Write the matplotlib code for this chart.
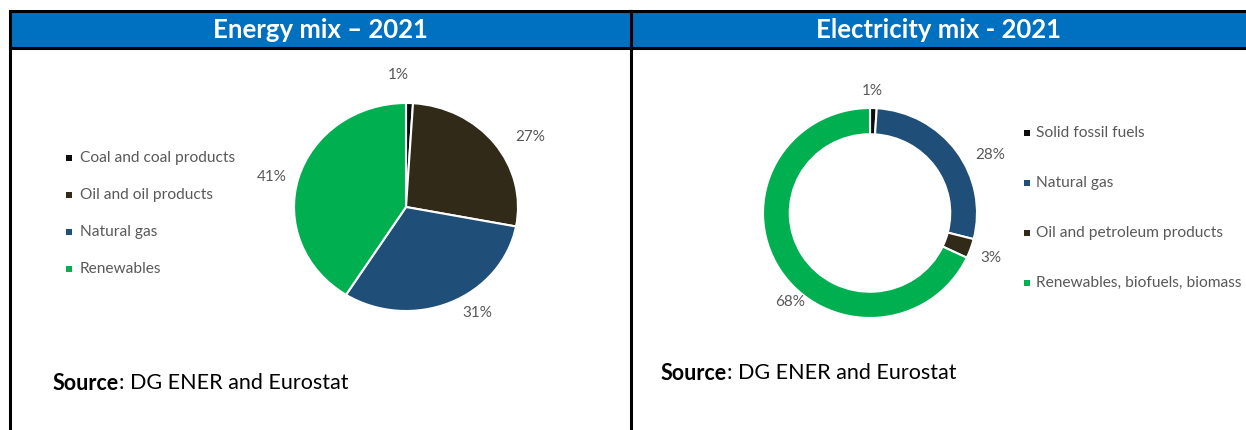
import matplotlib
matplotlib.use("Agg")
import matplotlib.pyplot as plt
from matplotlib.patches import Rectangle

plt.rcParams['font.family'] = ['Lato', 'DejaVu Sans']

# ---- data ----
energy_labels = ['Coal and coal products', 'Oil and oil products', 'Natural gas', 'Renewables']
energy_values = [1, 27, 31, 41]
energy_colors = ['#0d0d0d', '#322a18', '#1f4e79', '#00b050']

elec_labels = ['Solid fossil fuels', 'Natural gas', 'Oil and petroleum products',
               'Renewables, biofuels, biomass']
elec_values = [1, 28, 3, 68]
elec_colors = ['#0d0d0d', '#1f4e79', '#322a18', '#00b050']

titles = ['Energy mix \u2013 2021', 'Electricity mix - 2021']

# label placement (in pie-radius units), like Excel's "best fit"
energy_lab_pos = [(-0.07, 1.27), (1.11, 0.67), (0.64, -1.02), (-1.2, 0.29)]
elec_lab_pos = [(0.02, 1.16), (1.12, 0.55), (1.13, -0.43), (-0.75, -0.85)]

W, H = 1246, 430
HEADER = '#0070c0'
GREY = '#595959'

fig = plt.figure(figsize=(W / 100, H / 100), dpi=100)
bg = fig.add_axes([0, 0, 1, 1])
bg.set_xlim(0, W); bg.set_ylim(H, 0); bg.axis('off')

# table frame + header
bg.add_patch(Rectangle((10, 11), W - 10, 37, facecolor=HEADER, edgecolor='none'))
bg.plot([10, W], [11, 11], color='black', lw=2.2)
bg.plot([10, W], [48, 48], color='black', lw=2.2)
bg.plot([10, 10], [11, H], color='black', lw=2.2)
bg.plot([631, 631], [11, H], color='black', lw=2.2)
bg.text(320, 30, titles[0], color='white', fontsize=18.5, fontweight='bold', ha='center', va='center')
bg.text(939, 30, titles[1], color='white', fontsize=18.5, fontweight='bold', ha='center', va='center')


def pie_axes(cx, cy, rx, ry):
    return fig.add_axes([(cx - rx) / W, (H - cy - ry) / H, 2 * rx / W, 2 * ry / H])


# ---- left: energy mix pie ----
ax1 = pie_axes(406, 207, 112, 104)
_, _, pcts = ax1.pie(energy_values, colors=energy_colors, startangle=90, counterclock=False,
                     autopct='%d%%', wedgeprops=dict(edgecolor='white', linewidth=1.5),
                     textprops=dict(color=GREY, fontsize=11))
ax1.set_aspect('auto'); ax1.set_xlim(-1, 1); ax1.set_ylim(-1, 1)
for t, p in zip(pcts, energy_lab_pos):
    t.set_position(p)

for i, (lab, col) in enumerate(zip(energy_labels, energy_colors)):
    y = 158 + i * 37
    bg.add_patch(Rectangle((66, y - 3), 6, 6, facecolor=col, edgecolor='none'))
    bg.text(80, y, lab, color=GREY, fontsize=11.2, va='center', ha='left')

# ---- right: electricity mix donut ----
ax2 = pie_axes(870, 213, 107, 105)
_, _, pcts2 = ax2.pie(elec_values, colors=elec_colors, startangle=90, counterclock=False,
                      autopct='%d%%', wedgeprops=dict(width=0.25, edgecolor='white', linewidth=1.5),
                      textprops=dict(color=GREY, fontsize=11))
ax2.set_aspect('auto'); ax2.set_xlim(-1, 1); ax2.set_ylim(-1, 1)
for t, p in zip(pcts2, elec_lab_pos):
    t.set_position(p)

for i, (lab, col) in enumerate(zip(elec_labels, elec_colors)):
    y = 133 + i * 50
    bg.add_patch(Rectangle((1024, y - 3), 6, 6, facecolor=col, edgecolor='none'))
    bg.text(1036, y, lab, color=GREY, fontsize=11.2, va='center', ha='left')

# ---- source notes ----
for x0, y0 in [(53, 383), (661, 373)]:
    t = bg.text(x0, y0, 'Source', fontsize=15.5, fontweight='bold', va='center', ha='left', color='black')
    bg.annotate(': DG ENER and Eurostat', xy=(1, 0.5), xycoords=t, fontsize=15.5,
                va='center', ha='left', color='black')

fig.savefig('out.png', dpi=100)
